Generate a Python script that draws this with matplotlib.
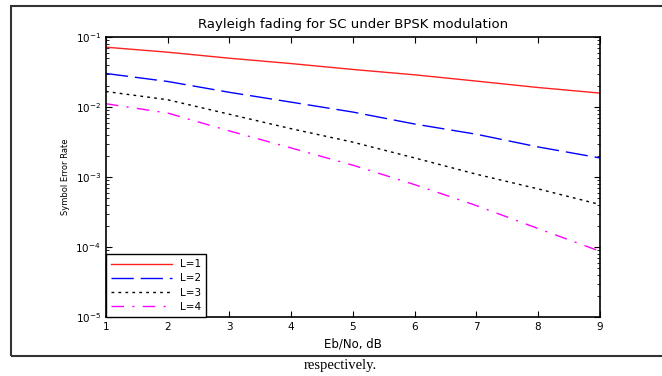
import matplotlib
matplotlib.use("Agg")
import matplotlib.pyplot as plt
from matplotlib.patches import Rectangle
from matplotlib.ticker import LogLocator, NullFormatter

# Eb/No (dB) and symbol error rates
ebno = [1, 2, 3, 4, 5, 6, 7, 8, 9]
ser_L1 = [0.0720, 0.0611, 0.0501, 0.0420, 0.0346, 0.0290, 0.0236, 0.0191, 0.0159]
ser_L2 = [0.0303, 0.0233, 0.0163, 0.0118, 0.00851, 0.00574, 0.00410, 0.00270, 0.00188]
ser_L3 = [0.01675, 0.01276, 0.00792, 0.00492, 0.00316, 0.00188, 0.00110, 0.000679, 0.000406]
ser_L4 = [0.01119, 0.00824, 0.00457, 0.00261, 0.00148, 0.000781, 0.000392, 0.000184, 8.73e-5]
labels = ["L=1", "L=2", "L=3", "L=4"]

fig = plt.figure(figsize=(6.62, 3.76), dpi=100)
ax = fig.add_axes([0.160, 0.157, 0.746, 0.744])

ax.plot(ebno, ser_L1, color="#ff2020", lw=1.0, label=labels[0])
ax.plot(ebno, ser_L2, color="#0000ff", lw=1.0, dashes=(16, 5), label=labels[1])
ax.plot(ebno, ser_L3, color="black", lw=1.0, dashes=(2, 3), label=labels[2])
ax.plot(ebno, ser_L4, color="#ff00ff", lw=1.0, dashes=(9, 6, 1.5, 6), label=labels[3])

ax.set_yscale("log")
ax.set_xlim(1, 9)
ax.set_ylim(1e-5, 1e-1)
ax.set_xticks(ebno)
ax.yaxis.set_major_locator(LogLocator(base=10, numticks=10))
ax.yaxis.set_minor_locator(LogLocator(base=10, subs=range(2, 10), numticks=20))
ax.yaxis.set_minor_formatter(NullFormatter())
ax.tick_params(which="both", direction="in", top=True, right=True, labelsize=7.5)
ax.tick_params(which="major", length=4)
ax.tick_params(which="minor", length=2.5)
for sp in ax.spines.values():
    sp.set_linewidth(1.2)

ax.set_title("Rayleigh fading for SC under BPSK modulation", fontsize=9.5, pad=7)
ax.set_xlabel("Eb/No, dB", fontsize=8.5)
ax.set_ylabel("Symbol Error Rate", fontsize=6)

leg = ax.legend(loc="lower left", fontsize=7.5, fancybox=False, framealpha=1,
                edgecolor="black", handlelength=5.8, borderaxespad=0,
                labelspacing=0.4, borderpad=0.5)
leg.get_frame().set_linewidth(1.0)

# page frame around the figure and caption below
fig.patches.append(Rectangle((11 / 662, 1 - 356 / 376), 1.2, 350 / 376,
                             transform=fig.transFigure, fill=False,
                             edgecolor="#333333", lw=1.5))
fig.text(340 / 662, 1 - 366 / 376, "respectively.", ha="center", va="center",
         fontsize=10.5, family="Liberation Serif")

fig.savefig("out.png", dpi=100)
